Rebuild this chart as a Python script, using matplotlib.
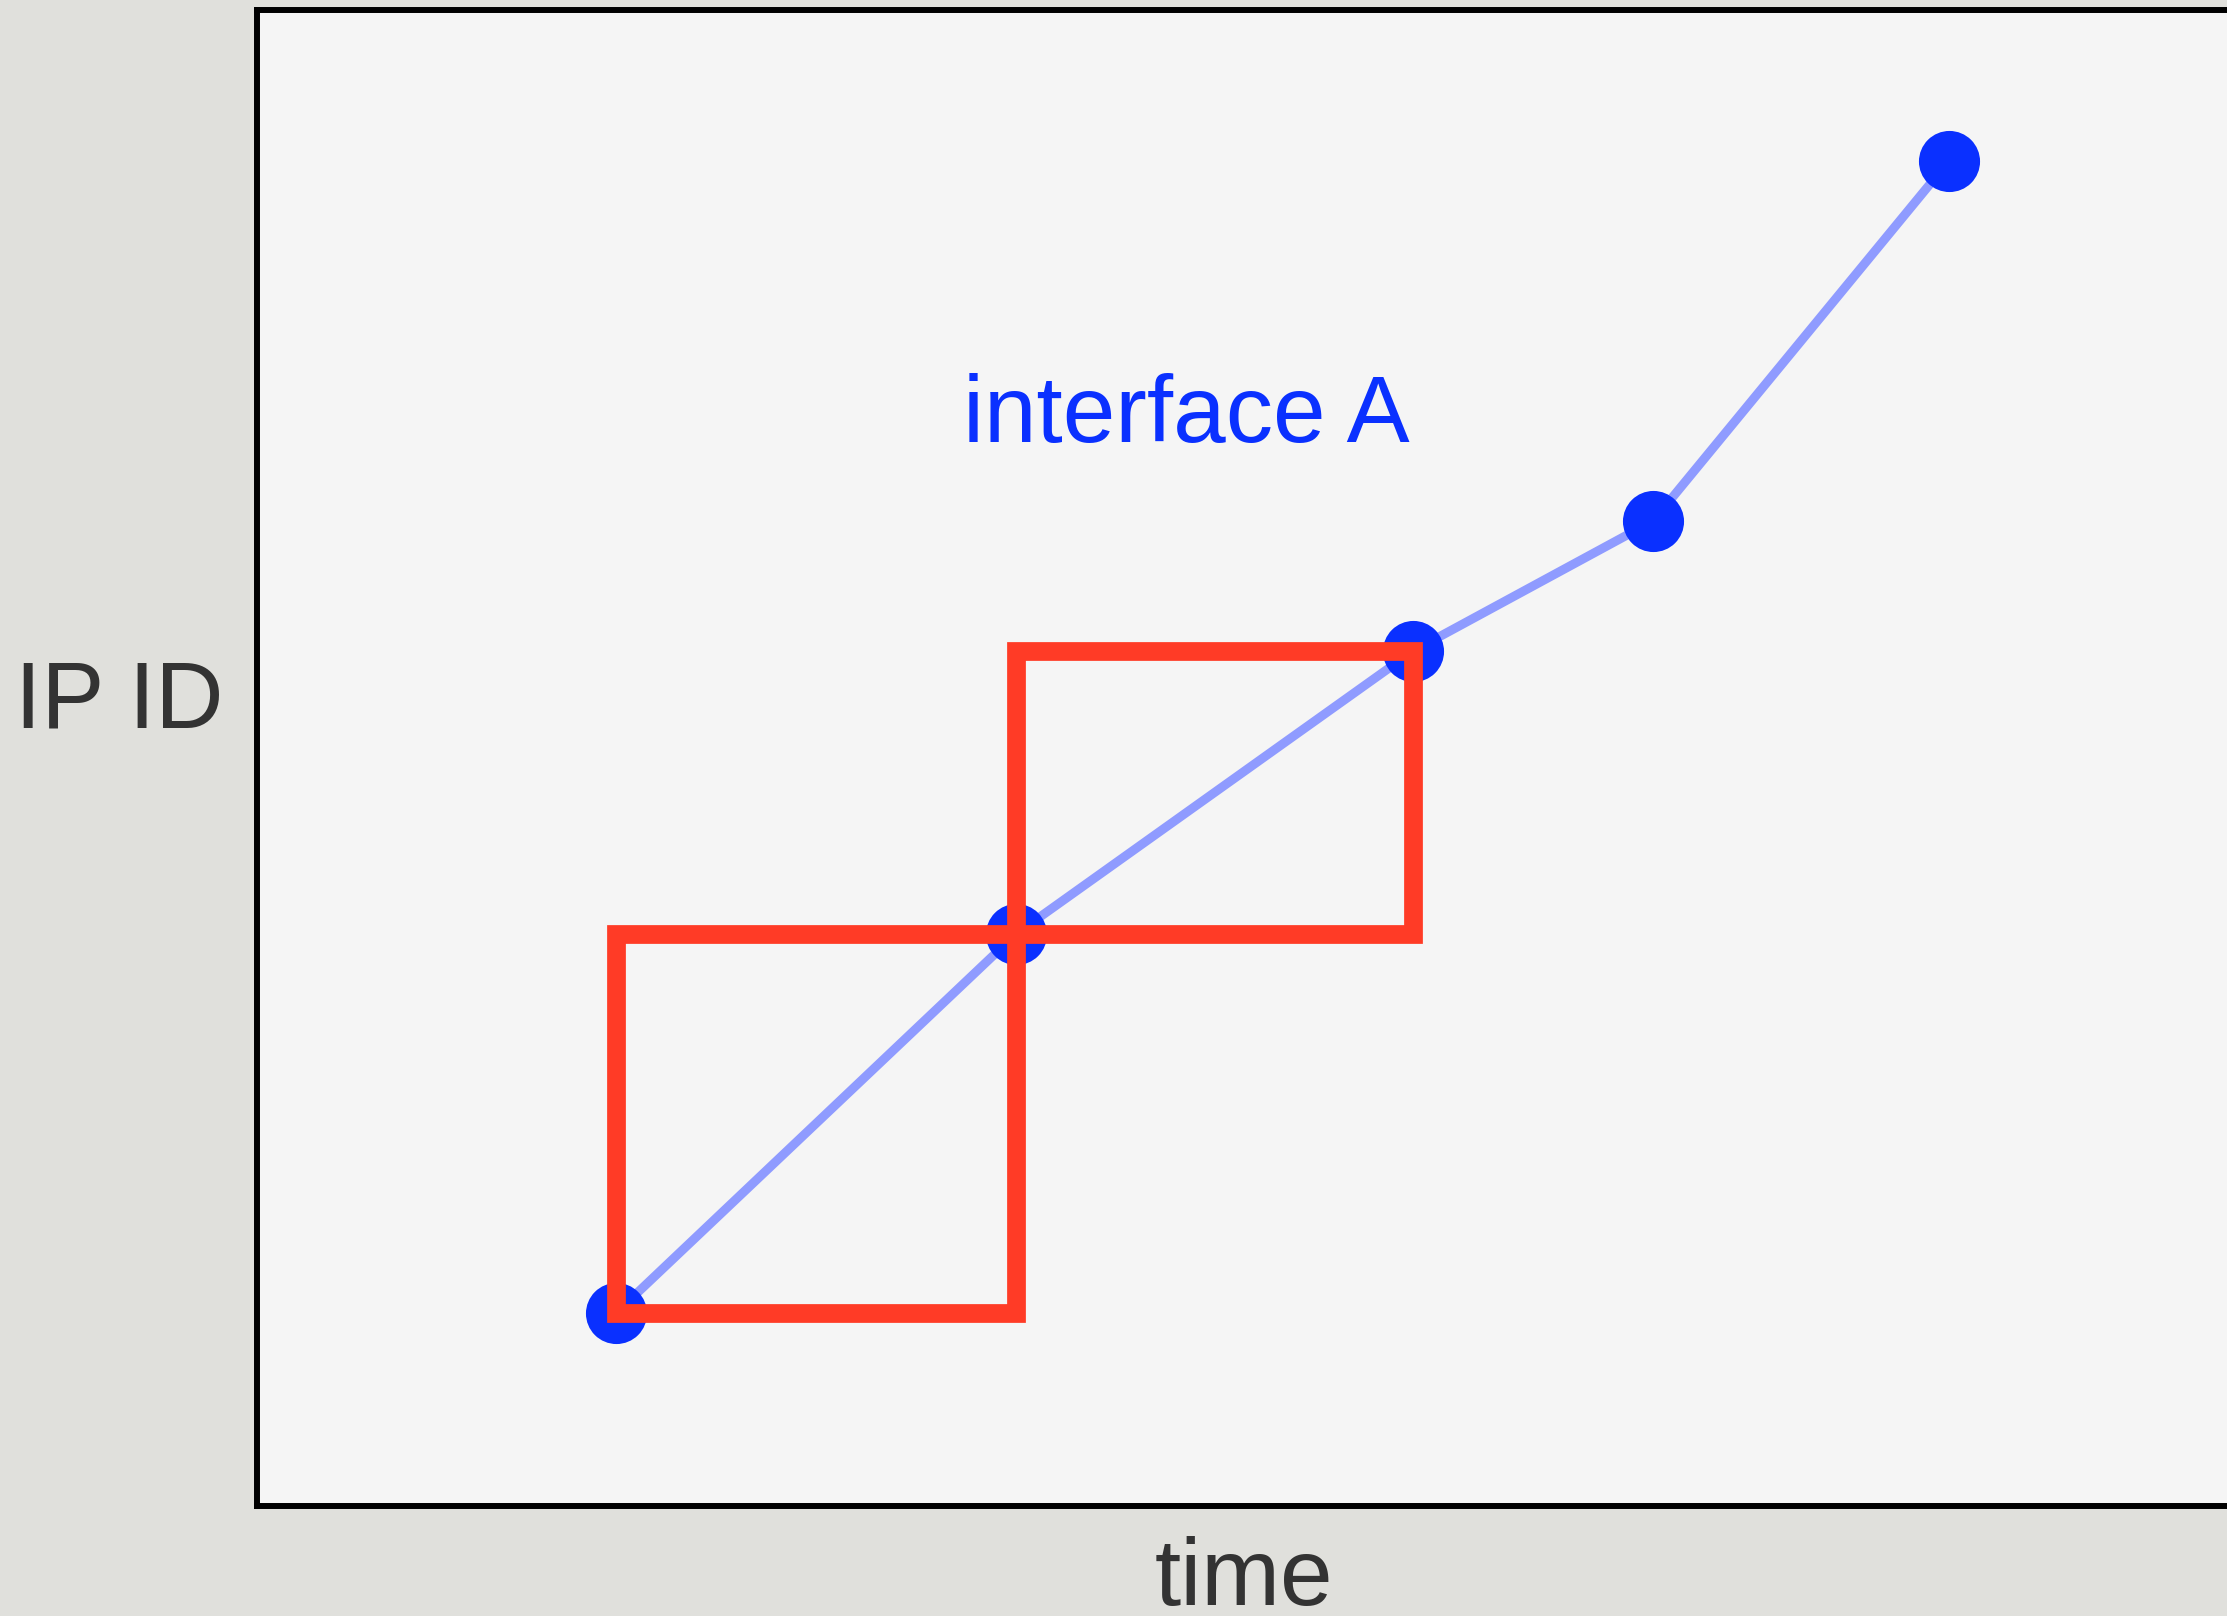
import matplotlib
matplotlib.use("Agg")
import matplotlib.pyplot as plt
from matplotlib.patches import Rectangle

# data (arbitrary units: time vs IP ID)
time = [359, 759, 1156, 1396, 1692]
ip_id = [193, 572, 855, 985, 1345]
box_pairs = [(0, 1), (1, 2)]
label_series = "interface A"
xlabel = "time"
ylabel = "IP ID"

W, H = 2227, 1616
fig = plt.figure(figsize=(W / 100, H / 100), dpi=100)
fig.patch.set_facecolor("#e0e0dc")

ax = fig.add_axes([257 / W, (H - 1506) / H, (2240 - 257) / W, (1506 - 10) / H])
ax.set_facecolor("#f5f5f5")
ax.set_xlim(0, 1983)
ax.set_ylim(0, 1496)
ax.set_xticks([])
ax.set_yticks([])
for s in ax.spines.values():
    s.set_linewidth(4.3)
    s.set_color("black")

ax.plot(time, ip_id, color="#8f9bff", lw=6.5, zorder=2, solid_capstyle="butt")
ax.plot(time, ip_id, "o", color="#0a30ff", markersize=44, markeredgewidth=0, zorder=3)

for i, j in box_pairs:
    r = Rectangle((time[i], ip_id[i]), time[j] - time[i], ip_id[j] - ip_id[i],
                  fill=False, edgecolor="#ff3b26", lw=13.5, joinstyle="miter", zorder=4)
    ax.add_patch(r)

font = "Liberation Sans"
fig.text(1186 / W, 1 - 442 / H, label_series, color="#0a30ff", fontsize=68,
         family=font, ha="center", va="baseline")
fig.text(119 / W, 1 - 728 / H, ylabel, color="#333333", fontsize=68,
         family=font, ha="center", va="baseline")
fig.text(1244 / W, 1 - 1605 / H, xlabel, color="#333333", fontsize=68,
         family=font, ha="center", va="baseline")

fig.savefig("out.png", dpi=100, facecolor=fig.get_facecolor())
